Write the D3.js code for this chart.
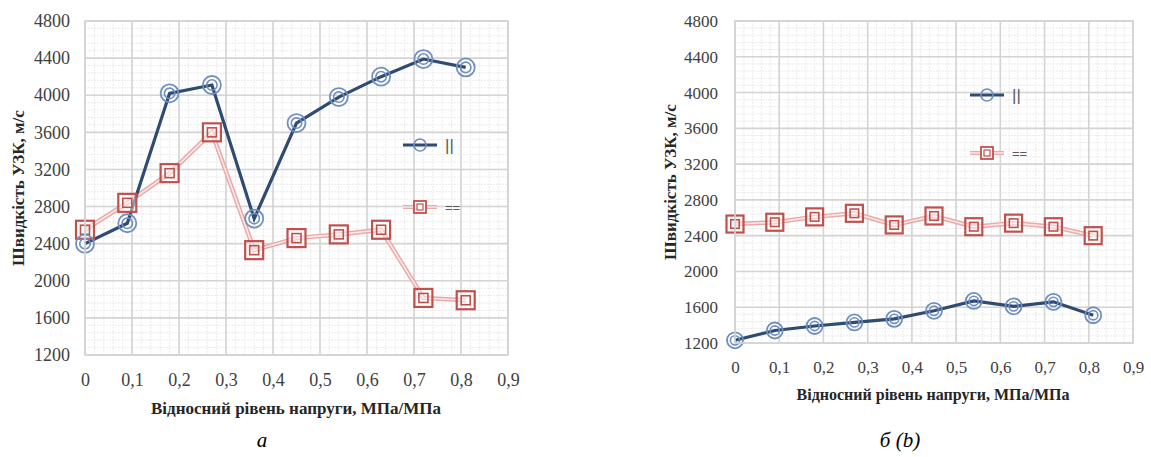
<!DOCTYPE html>
<html>
<head>
<meta charset="utf-8">
<script src="https://cdn.jsdelivr.net/npm/d3@7"></script>
<style>
  body { margin: 0; background: #fff; }
  svg text { font-family: "Liberation Serif"; }
  svg text.legend-label { font-family: "Liberation Sans"; }
</style>
</head>
<body>
<div id="chart"></div>
<script>
// relative stress level (x) shared by both panels
const stressLevels = [0, 0.09, 0.18, 0.27, 0.36, 0.45, 0.54, 0.63, 0.72, 0.81];

// panel а
const speedParallelA = [2400, 2620, 4020, 4110, 2670, 3700, 3980, 4200, 4390, 4300];
const speedEqualA    = [2550, 2840, 3160, 3600, 2330, 2460, 2500, 2550, 1815, 1790];

// panel б (b)
const speedParallelB = [1230, 1340, 1390, 1430, 1470, 1560, 1670, 1610, 1660, 1510];
const speedEqualB    = [2530, 2550, 2610, 2650, 2520, 2620, 2500, 2540, 2500, 2400];

const seriesNames = ["||", "=="];
const xTicks = [0, 0.1, 0.2, 0.3, 0.4, 0.5, 0.6, 0.7, 0.8, 0.9];
const yTicks = [1200, 1600, 2000, 2400, 2800, 3200, 3600, 4000, 4400, 4800];

const yTitle = "Швидкість УЗК, м/с";
const xTitle = "Відносний рівень напруги, МПа/МПа";

const svg = d3.select("#chart")
    .append("svg")
    .attr("width", 1151)
    .attr("height", 457);

svg.append("rect").attr("width", 1151).attr("height", 457).attr("fill", "#fff");

const blue = "#2f4b72";
const blueMarker = "#6f8fbf";
const red = "#c0504d";
const pink = "#e9a9a7";

function drawChart(c) {
    const x = d3.scaleLinear().domain([0, 0.9]).range([c.left, c.right]);
    const y = d3.scaleLinear().domain([1200, 4800]).range([c.bottom, c.top]);
    const g = svg.append("g");

    // minor grid (excel default: major / 5)
    const xMinor = d3.range(0, 0.9001, 0.02);
    const yMinor = d3.range(1200, 4801, 80);
    g.selectAll(".xminor").data(xMinor).enter().append("line")
        .attr("x1", d => x(d)).attr("x2", d => x(d))
        .attr("y1", c.top).attr("y2", c.bottom)
        .attr("stroke", "#e6e6e6").attr("stroke-width", 0.8)
        .attr("stroke-dasharray", "2,1");
    g.selectAll(".yminor").data(yMinor).enter().append("line")
        .attr("x1", c.left).attr("x2", c.right)
        .attr("y1", d => y(d)).attr("y2", d => y(d))
        .attr("stroke", "#e6e6e6").attr("stroke-width", 0.8)
        .attr("stroke-dasharray", "2,1");

    // major grid
    g.selectAll(".xmajor").data(xTicks).enter().append("line")
        .attr("x1", d => x(d)).attr("x2", d => x(d))
        .attr("y1", c.top).attr("y2", c.bottom)
        .attr("stroke", "#d4d4d4").attr("stroke-width", 1.6);
    g.selectAll(".ymajor").data(yTicks).enter().append("line")
        .attr("x1", c.left).attr("x2", c.right)
        .attr("y1", d => y(d)).attr("y2", d => y(d))
        .attr("stroke", "#d4d4d4").attr("stroke-width", 1.6);

    // axes
    const ya = g.append("g")
        .attr("transform", `translate(${c.left},0)`)
        .call(d3.axisLeft(y).tickValues(yTicks).tickSize(0).tickPadding(c.yPad)
            .tickFormat(d3.format("d")));
    ya.select(".domain").remove();
    ya.attr("font-size", c.fs);
    ya.selectAll("text").attr("fill", "#404040");

    const xa = g.append("g")
        .attr("transform", `translate(0,${c.bottom})`)
        .call(d3.axisBottom(x).tickValues(xTicks).tickSize(0).tickPadding(18)
            .tickFormat(d => d === 0 ? "0" : d.toFixed(1).replace(".", ",")));
    xa.select(".domain").remove();
    xa.attr("font-size", c.fs);
    xa.selectAll("text").attr("fill", "#404040");

    const pts = s => stressLevels.map((v, i) => [v, s[i]]);
    const line = d3.line().x(d => x(d[0])).y(d => y(d[1]));

    // "==" series: thin double line
    g.append("path").datum(pts(c.equal)).attr("d", line)
        .attr("fill", "none").attr("stroke", pink).attr("stroke-width", 4.5);
    g.append("path").datum(pts(c.equal)).attr("d", line)
        .attr("fill", "none").attr("stroke", "#fbe9e9").attr("stroke-width", 1.6);

    // "||" series: thick navy line
    g.append("path").datum(pts(c.parallel)).attr("d", line)
        .attr("fill", "none").attr("stroke", blue).attr("stroke-width", 3.2);

    const sq = c.sq;
    const sqG = g.selectAll(".sq").data(pts(c.equal)).enter().append("g")
        .attr("transform", d => `translate(${x(d[0])},${y(d[1])})`);
    sqG.append("rect").attr("x", -sq / 2).attr("y", -sq / 2).attr("width", sq).attr("height", sq)
        .attr("fill", "rgba(255,255,255,0.45)").attr("stroke", red).attr("stroke-width", 2.2);
    sqG.append("rect").attr("x", -sq / 4).attr("y", -sq / 4).attr("width", sq / 2).attr("height", sq / 2)
        .attr("fill", "none").attr("stroke", red).attr("stroke-width", 1.6);

    const ciG = g.selectAll(".ci").data(pts(c.parallel)).enter().append("g")
        .attr("transform", d => `translate(${x(d[0])},${y(d[1])})`);
    ciG.append("circle").attr("r", c.r)
        .attr("fill", "none").attr("stroke", blueMarker).attr("stroke-width", 1.8);
    ciG.append("circle").attr("r", c.r * 0.58)
        .attr("fill", "none").attr("stroke", blueMarker).attr("stroke-width", 1.6);

    // legend
    const lg = g.append("g");
    const lx0 = c.legX, lx1 = c.legX + 34, lm = c.legX + 17;
    lg.append("line").attr("x1", lx0).attr("x2", lx1).attr("y1", c.legY1).attr("y2", c.legY1)
        .attr("stroke", blue).attr("stroke-width", 3.2);
    lg.append("circle").attr("cx", lm).attr("cy", c.legY1).attr("r", 6)
        .attr("fill", "none").attr("stroke", blueMarker).attr("stroke-width", 1.6);
    lg.append("line").attr("x1", lx0).attr("x2", lx1).attr("y1", c.legY2).attr("y2", c.legY2)
        .attr("stroke", pink).attr("stroke-width", 4);
    lg.append("line").attr("x1", lx0).attr("x2", lx1).attr("y1", c.legY2).attr("y2", c.legY2)
        .attr("stroke", "#fbe9e9").attr("stroke-width", 1.4);
    lg.append("rect").attr("x", lm - 6).attr("y", c.legY2 - 6).attr("width", 12).attr("height", 12)
        .attr("fill", "#fff").attr("stroke", red).attr("stroke-width", 1.8);
    lg.append("rect").attr("x", lm - 3).attr("y", c.legY2 - 3).attr("width", 6).attr("height", 6)
        .attr("fill", "none").attr("stroke", red).attr("stroke-width", 1.2);
    lg.selectAll(".lt").data(seriesNames).enter().append("text")
        .attr("class", "legend-label")
        .attr("x", lx1 + 8)
        .attr("y", (d, i) => i === 0 ? c.legY1 : c.legY2)
        .attr("dominant-baseline", "central")
        .attr("font-size", (d, i) => i === 0 ? 17 : 13)
        .attr("fill", "#595959")
        .text(d => d);

    // titles
    g.append("text")
        .attr("transform", `translate(${c.yTitleX},${c.yTitleY}) rotate(-90)`)
        .attr("text-anchor", "middle")
        .attr("dominant-baseline", "central")
        .attr("font-size", 17).attr("font-weight", "bold")
        .attr("fill", "#262626")
        .text(yTitle);
    g.append("text")
        .attr("x", c.xTitleX).attr("y", c.xTitleY)
        .attr("text-anchor", "middle")
        .attr("dominant-baseline", "central")
        .attr("font-size", c.tfs).attr("font-weight", "bold")
        .attr("fill", "#262626")
        .text(xTitle);
    g.append("text")
        .attr("x", c.capX).attr("y", 440)
        .attr("text-anchor", "middle")
        .attr("dominant-baseline", "central")
        .attr("font-size", 21).attr("font-style", "italic")
        .attr("fill", "#000")
        .text(c.caption);

    // plot border
    g.append("rect")
        .attr("x", c.left).attr("y", c.top)
        .attr("width", c.right - c.left).attr("height", c.bottom - c.top)
        .attr("fill", "none").attr("stroke", "#d4d4d4").attr("stroke-width", 1.6);
}

drawChart({
    left: 85, right: 508, top: 21, bottom: 355,
    fs: 18, tfs: 17, yPad: 15, r: 9, sq: 18,
    parallel: speedParallelA, equal: speedEqualA,
    legX: 403, legY1: 145, legY2: 207,
    yTitleX: 18, yTitleY: 188, xTitleX: 296, xTitleY: 408,
    capX: 262, caption: "а"
});

drawChart({
    left: 735, right: 1133, top: 21, bottom: 343,
    fs: 17, tfs: 16, yPad: 17, r: 8, sq: 17,
    parallel: speedParallelB, equal: speedEqualB,
    legX: 970, legY1: 95, legY2: 153,
    yTitleX: 670, yTitleY: 182, xTitleX: 933, xTitleY: 394,
    capX: 900, caption: "б (b)"
});
</script>
</body>
</html>
